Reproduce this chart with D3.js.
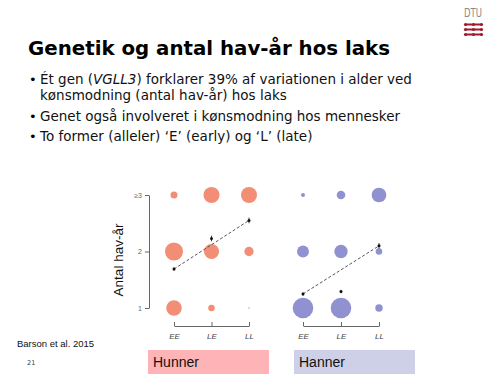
<!DOCTYPE html>
<html>
<head>
<meta charset="utf-8">
<script src="https://cdn.jsdelivr.net/npm/d3@7"></script>
<style>
  body { margin: 0; background: #fff; }
  svg { display: block; }
</style>
</head>
<body>
<div id="chart"></div>
<script>
// genotypes and sea-age classes
const genotypes = ["EE", "LE", "LL"];
const seaAges = [1, 2, 3];
const ageLabels = ["1", "2", "\u22653"];

// circle sizes (share of fish) per sea-age, one array per genotype
const femaleSizes = {
    EE: [0.39, 0.53, 0.08],
    LE: [0.07, 0.37, 0.42],
    LL: [0.004, 0.14, 0.42]
};
const maleSizes = {
    EE: [0.69, 0.23, 0.026],
    LE: [0.69, 0.29, 0.12],
    LL: [0.09, 0.07, 0.35]
};

// mean sea-age per genotype (black points)
const femaleMeans = [1.69, 2.23, 2.55];
const maleMeans = [1.25, 1.29, 2.1];
const femaleErr = [0.03, 0.05, 0.05];
const maleErr = [0.03, 0.03, 0.05];

const bullets = [
    ["\u2022", [{ t: "\u00C9t gen (" }, { t: "VGLL3", i: true }, { t: ") forklarer 39% af variationen i alder ved" }]],
    ["", [{ t: "k\u00F8nsmodning (antal hav-\u00E5r) hos laks" }]],
    ["\u2022", [{ t: "Genet ogs\u00E5 involveret i k\u00F8nsmodning hos mennesker" }]],
    ["\u2022", [{ t: "To former (alleler) \u2018E\u2019 (early) og \u2018L\u2019 (late)" }]]
];

const width = 500, height = 374;
const svg = d3.select("#chart").append("svg")
    .attr("width", width)
    .attr("height", height);

// title
svg.append("text")
    .attr("x", 28)
    .attr("y", 55)
    .attr("font-family", "DejaVu Sans")
    .attr("font-weight", "bold")
    .attr("font-size", 20)
    .attr("textLength", 362)
    .attr("lengthAdjust", "spacingAndGlyphs")
    .attr("fill", "#000")
    .text("Genetik og antal hav-\u00E5r hos laks");

// bullet text
const bulletY = [84, 100, 121, 141];
bullets.forEach((b, i) => {
    if (b[0]) {
        svg.append("text")
            .attr("x", 29).attr("y", bulletY[i])
            .attr("font-family", "DejaVu Sans").attr("font-size", 13)
            .text(b[0]);
    }
    const t = svg.append("text")
        .attr("x", 40).attr("y", bulletY[i])
        .attr("font-family", "DejaVu Sans").attr("font-size", 13.5)
        .attr("fill", "#111");
    b[1].forEach(part => {
        t.append("tspan")
            .attr("font-style", part.i ? "italic" : null)
            .text(part.t);
    });
});

// DTU logo
svg.append("text")
    .attr("x", 473).attr("y", 17)
    .attr("text-anchor", "middle")
    .attr("font-family", "DejaVu Sans Condensed")
    .attr("font-size", 13)
    .attr("textLength", 18)
    .attr("lengthAdjust", "spacingAndGlyphs")
    .attr("fill", "#8a8a8a")
    .text("DTU");
[24.5, 29.5, 34.5].forEach(yy => {
    svg.append("line")
        .attr("x1", 465).attr("x2", 482).attr("y1", yy).attr("y2", yy)
        .attr("stroke", "#a0192c").attr("stroke-width", 2);
    [465.5, 473.5, 481.5].forEach(xx => {
        svg.append("circle").attr("cx", xx).attr("cy", yy).attr("r", 1.6).attr("fill", "#a0192c");
    });
});

// scales
const y = d3.scaleLinear().domain([1, 3]).range([308, 195]);
const r = d3.scaleSqrt().domain([0, 1]).range([0, 12.4]);
const xF = d3.scalePoint().domain(genotypes).range([174, 249]);
const xM = d3.scalePoint().domain(genotypes).range([303, 379]);

// y axis (left panel only)
const yAxis = svg.append("g")
    .attr("transform", "translate(149,0)")
    .call(d3.axisLeft(y).tickValues(seaAges).tickFormat((d, i) => ageLabels[i]).tickSize(4).tickSizeOuter(0));
yAxis.select(".domain").attr("stroke", "#666");
yAxis.selectAll(".tick line").attr("stroke", "#666");
yAxis.selectAll(".tick text")
    .attr("font-family", "Liberation Sans").attr("font-size", 7).attr("fill", "#666");

svg.append("text")
    .attr("transform", "translate(123,260) rotate(-90)")
    .attr("text-anchor", "middle")
    .attr("font-family", "Liberation Sans")
    .attr("font-size", 13.5)
    .attr("fill", "#111")
    .text("Antal hav-\u00E5r");

function drawPanel(x, sizes, means, errs, color) {
    const g = svg.append("g");

    // x axis with ticks pointing up
    const xa = g.append("g")
        .attr("transform", "translate(0,326)")
        .call(d3.axisBottom(x).tickSize(-4).tickSizeOuter(0).tickPadding(7));
    xa.select(".domain").attr("stroke", "#666");
    xa.selectAll(".tick line").attr("stroke", "#666");
    xa.selectAll(".tick text")
        .attr("font-family", "Liberation Sans").attr("font-size", 8)
        .attr("font-style", "italic").attr("fill", "#444");

    // bubbles
    const cells = [];
    genotypes.forEach(gt => {
        seaAges.forEach((a, i) => cells.push({ gt: gt, age: a, v: sizes[gt][i] }));
    });
    g.selectAll("circle.bubble")
        .data(cells)
        .enter()
        .append("circle")
        .attr("class", "bubble")
        .attr("cx", d => x(d.gt))
        .attr("cy", d => y(d.age))
        .attr("r", d => r(d.v))
        .attr("fill", color);

    // dashed line between EE and LL means
    g.append("line")
        .attr("x1", x("EE")).attr("y1", y(means[0]))
        .attr("x2", x("LL")).attr("y2", y(means[2]))
        .attr("stroke", "#555").attr("stroke-width", 1)
        .attr("stroke-dasharray", "3,2");

    // means with error bars
    g.selectAll("line.err")
        .data(genotypes)
        .enter()
        .append("line")
        .attr("class", "err")
        .attr("x1", d => x(d)).attr("x2", d => x(d))
        .attr("y1", (d, i) => y(means[i] - errs[i]))
        .attr("y2", (d, i) => y(means[i] + errs[i]))
        .attr("stroke", "#111").attr("stroke-width", 0.8);
    g.selectAll("circle.mean")
        .data(genotypes)
        .enter()
        .append("circle")
        .attr("class", "mean")
        .attr("cx", d => x(d))
        .attr("cy", (d, i) => y(means[i]))
        .attr("r", 1.5)
        .attr("fill", "#111");
}

drawPanel(xF, femaleSizes, femaleMeans, femaleErr, "#f38e76");
drawPanel(xM, maleSizes, maleMeans, maleErr, "#9091d1");

// panel labels
const boxes = [
    { x: 148, w: 121, fill: "#feb4b6", label: "Hunner" },
    { x: 294, w: 121, fill: "#ced0e8", label: "Hanner" }
];
boxes.forEach(b => {
    svg.append("rect")
        .attr("x", b.x).attr("y", 350).attr("width", b.w).attr("height", 24)
        .attr("fill", b.fill);
    svg.append("text")
        .attr("x", b.x + 5).attr("y", 367)
        .attr("font-family", "Liberation Sans").attr("font-size", 14)
        .attr("fill", "#111")
        .text(b.label);
});

// source and page number
svg.append("text")
    .attr("x", 17).attr("y", 347)
    .attr("font-family", "Liberation Sans").attr("font-size", 9.5)
    .attr("fill", "#111")
    .text("Barson et al. 2015");
svg.append("text")
    .attr("x", 27).attr("y", 365)
    .attr("font-family", "DejaVu Sans").attr("font-size", 6.5)
    .attr("fill", "#333")
    .text("21");
</script>
</body>
</html>
